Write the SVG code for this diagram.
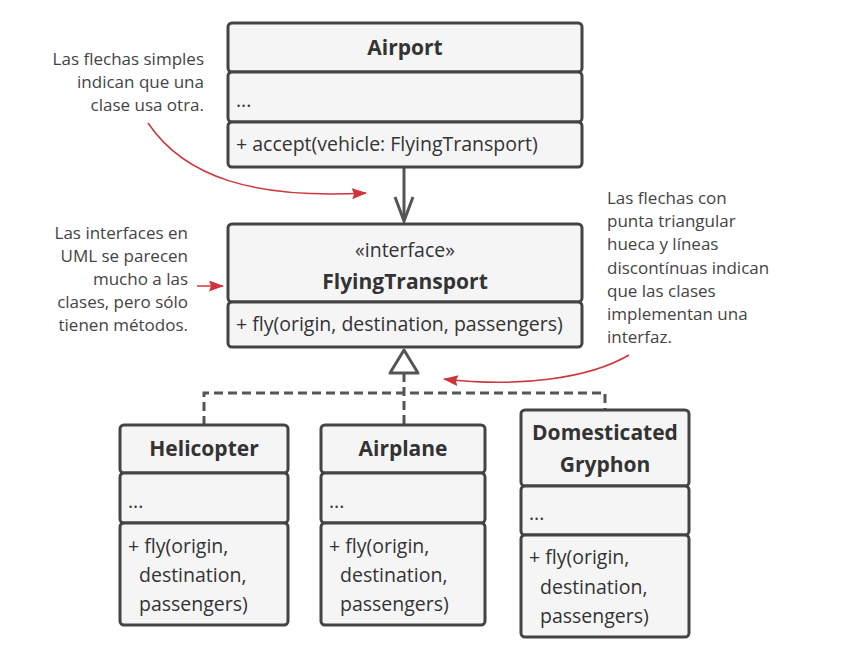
<svg xmlns="http://www.w3.org/2000/svg" width="861" height="660" viewBox="0 0 861 660">
<defs>
<style>
.box{fill:#f5f5f5;stroke:#444;stroke-width:3}
.t{font-family:"Open Sans","Liberation Sans",sans-serif;font-size:19.5px;fill:#333}
.b{font-weight:bold;text-anchor:middle;font-size:21px}
.c{text-anchor:middle}
.n{font-family:"Open Sans","Liberation Sans",sans-serif;font-size:17px;fill:#444}
.r{text-anchor:end}
.conn{fill:none;stroke:#555;stroke-width:3}
.dash{stroke-dasharray:9 5}
.red{fill:none;stroke:#d0343c;stroke-width:1.5}
</style>
<marker id="redArrow" viewBox="0 0 15 11" refX="14" refY="5.5" markerWidth="15" markerHeight="11" markerUnits="userSpaceOnUse" orient="auto">
<path d="M0,0 L15,5.5 L0,11 L2,5.5 Z" fill="#d0343c"/>
</marker>
</defs>
<rect width="861" height="660" fill="#fff"/>

<g id="connectors">
<path class="conn" d="M404,168 V221"/>
<path class="conn" d="M395,197 L404,221 L413,197"/>
<path class="conn dash" d="M404,373 V425"/>
<path class="conn dash" d="M204,425 V393 H605 V410"/>
<path d="M404,350 L390,373 H418 Z" fill="#fff" stroke="#555" stroke-width="3" stroke-linejoin="round"/>
</g>

<g id="airport">
<rect class="box" x="228" y="23" width="354" height="49" rx="4"/>
<rect class="box" x="228" y="72" width="354" height="50" rx="4"/>
<rect class="box" x="228" y="122" width="354" height="45" rx="4"/>
<text class="t b" x="405" y="55">Airport</text>
<text class="t" x="236" y="107">...</text>
<text class="t" x="236" y="151">+ accept(vehicle: FlyingTransport)</text>
</g>

<g id="flyingtransport">
<rect class="box" x="228" y="224" width="354" height="78" rx="4"/>
<rect class="box" x="228" y="302" width="354" height="45" rx="4"/>
<text class="t c" x="405" y="257">«interface»</text>
<text class="t b" x="405" y="289">FlyingTransport</text>
<text class="t" x="236" y="331">+ fly(origin, destination, passengers)</text>
</g>

<g id="helicopter">
<rect class="box" x="120" y="425" width="168" height="48" rx="4"/>
<rect class="box" x="120" y="473" width="168" height="50" rx="4"/>
<rect class="box" x="120" y="523" width="168" height="102" rx="4"/>
<text class="t b" x="204" y="456">Helicopter</text>
<text class="t" x="128" y="508">...</text>
<text class="t" x="128" y="553">+ fly(origin,</text>
<text class="t" x="139" y="582">destination,</text>
<text class="t" x="139" y="611">passengers)</text>
</g>

<g id="airplane">
<rect class="box" x="321" y="425" width="164" height="48" rx="4"/>
<rect class="box" x="321" y="473" width="164" height="50" rx="4"/>
<rect class="box" x="321" y="523" width="164" height="102" rx="4"/>
<text class="t b" x="403" y="456">Airplane</text>
<text class="t" x="329" y="508">...</text>
<text class="t" x="329" y="553">+ fly(origin,</text>
<text class="t" x="340" y="582">destination,</text>
<text class="t" x="340" y="611">passengers)</text>
</g>

<g id="gryphon">
<rect class="box" x="521" y="410" width="168" height="76" rx="4"/>
<rect class="box" x="521" y="486" width="168" height="49" rx="4"/>
<rect class="box" x="521" y="535" width="168" height="102" rx="4"/>
<text class="t b" x="605" y="440">Domesticated</text>
<text class="t b" x="605" y="472">Gryphon</text>
<text class="t" x="529" y="520">...</text>
<text class="t" x="529" y="564">+ fly(origin,</text>
<text class="t" x="540" y="594">destination,</text>
<text class="t" x="540" y="623">passengers)</text>
</g>

<g id="notes">
<text class="n r" x="204" y="65">Las flechas simples</text>
<text class="n r" x="204" y="88">indican que una</text>
<text class="n r" x="204" y="111">clase usa otra.</text>
<path class="red" d="M148,123 C185,178 255,199 366,193" marker-end="url(#redArrow)"/>

<text class="n r" x="188" y="239">Las interfaces en</text>
<text class="n r" x="188" y="262">UML se parecen</text>
<text class="n r" x="188" y="285">mucho a las</text>
<text class="n r" x="188" y="308">clases, pero sólo</text>
<text class="n r" x="188" y="331">tienen métodos.</text>
<path class="red" d="M197,286 H223" marker-end="url(#redArrow)"/>

<text class="n" x="607" y="204">Las flechas con</text>
<text class="n" x="607" y="227">punta triangular</text>
<text class="n" x="607" y="250">hueca y líneas</text>
<text class="n" x="607" y="274">discontínuas indican</text>
<text class="n" x="607" y="297">que las clases</text>
<text class="n" x="607" y="320">implementan una</text>
<text class="n" x="607" y="343">interfaz.</text>
<path class="red" d="M629,355 C590,378 520,388 444,379" marker-end="url(#redArrow)"/>
</g>
</svg>
